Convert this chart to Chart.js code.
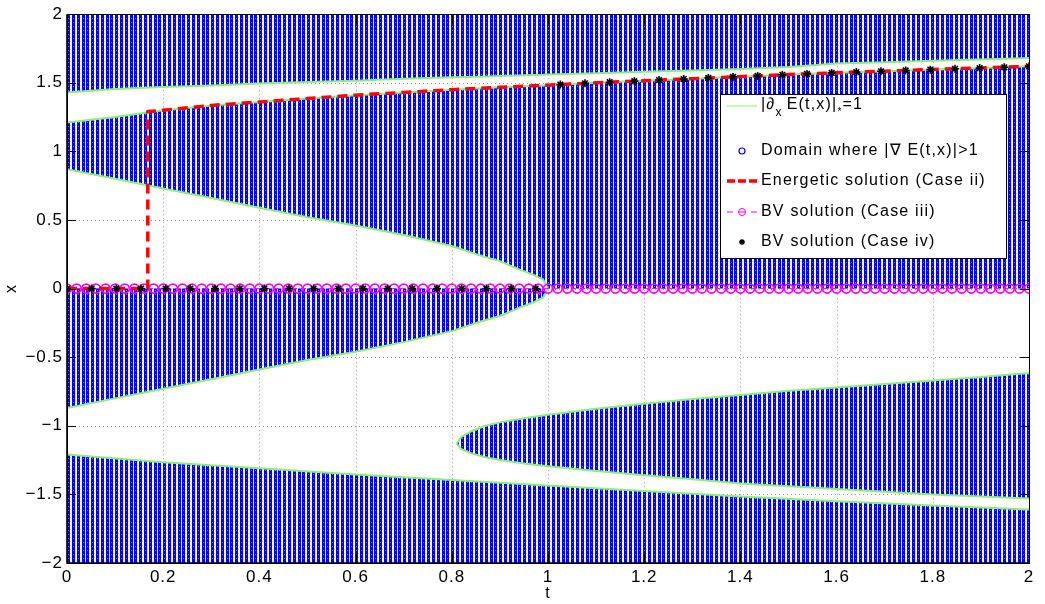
<!DOCTYPE html>
<html><head><meta charset="utf-8">
<script src="https://cdn.jsdelivr.net/npm/chart.js@4.4.0/dist/chart.umd.min.js"></script>
<style>html,body{margin:0;padding:0;background:#fff;}canvas{display:block;}</style>
</head><body>
<canvas id="c" width="1045" height="604"></canvas>
<script>
// ---------------- data ----------------
const xTicks = [0,0.2,0.4,0.6,0.8,1,1.2,1.4,1.6,1.8,2];
const yTicks = [-2,-1.5,-1,-0.5,0,0.5,1,1.5,2];

// common t grid for the upper boundaries
const tGrid   = [0,0.1,0.2,0.3,0.4,0.5,0.6,0.7,0.8,0.86,0.9,0.94,0.97,0.99,1.0,1.1,1.2,1.3,1.4,1.5,1.6,1.7,1.8,1.9,2.0];
const upper1  = [1.43,1.455,1.47,1.48,1.495,1.505,1.515,1.53,1.54,1.545,1.55,1.553,1.556,1.558,1.56,1.57,1.58,1.59,1.60,1.615,1.64,1.65,1.66,1.67,1.68];
const upper2  = [1.21,1.25,1.30,1.335,1.36,1.385,1.41,1.43,1.45,1.46,1.467,1.473,1.478,1.481,1.483,1.50,1.515,1.53,1.545,1.56,1.573,1.585,1.597,1.608,1.62];
const wedgeUpExt = [0.87,0.80,0.73,0.66,0.59,0.52,0.46,0.39,0.31,0.24,0.20,0.14,0.10,0.065,0,0,0,0,0,0,0,0,0,0,0];

// wedge (t from 0 to the tip at t = 1)
const wedgeT   = [0,0.1,0.2,0.3,0.4,0.5,0.6,0.7,0.8,0.86,0.9,0.94,0.97,0.99,1.0];
const wedgeUp  = [0.87,0.80,0.73,0.66,0.59,0.52,0.46,0.39,0.31,0.24,0.20,0.14,0.10,0.065,0];
const wedgeLow = [-0.87,-0.80,-0.73,-0.66,-0.59,-0.52,-0.46,-0.39,-0.31,-0.24,-0.20,-0.14,-0.10,-0.065,0];

// lower blob (tip near t = 0.81)
const blobT     = [0.81,0.82,0.84,0.87,0.9,0.95,1.0,1.1,1.2,1.3,1.4,1.5,1.6,1.7,1.8,1.9,2.0];
const blobUpper = [-1.13,-1.08,-1.04,-1.0,-0.975,-0.945,-0.92,-0.875,-0.84,-0.805,-0.775,-0.745,-0.72,-0.695,-0.67,-0.645,-0.615];
const blobLower = [-1.13,-1.17,-1.20,-1.23,-1.25,-1.275,-1.295,-1.33,-1.36,-1.39,-1.42,-1.44,-1.46,-1.48,-1.50,-1.515,-1.53];

// bottom boundary
const bottomT = [0,0.2,0.4,0.6,0.8,1.0,1.2,1.4,1.6,1.8,2.0];
const bottomX = [-1.21,-1.265,-1.31,-1.355,-1.395,-1.435,-1.475,-1.515,-1.55,-1.58,-1.61];

// energetic solution (case ii)
const energT = [0,0.168,0.168,0.2,0.3,0.4,0.5,0.6,0.7,0.8,0.9,1.0,1.1,1.2,1.3,1.4,1.5,1.6,1.7,1.8,1.9,2.0];
const energX = [0,0,1.29,1.30,1.335,1.36,1.385,1.41,1.43,1.45,1.467,1.483,1.50,1.515,1.53,1.545,1.56,1.573,1.585,1.597,1.608,1.62];

// BV solution (case iii)
const bv3T = [0,0.02,0.04,0.06,0.08,0.1,0.12,0.14,0.16,0.18,0.2,0.22,0.24,0.26,0.28,0.3,0.32,0.34,0.36,0.38,0.4,0.42,0.44,0.46,0.48,0.5,0.52,0.54,0.56,0.58,0.6,0.62,0.64,0.66,0.68,0.7,0.72,0.74,0.76,0.78,0.8,0.82,0.84,0.86,0.88,0.9,0.92,0.94,0.96,0.98,1.0,1.02,1.04,1.06,1.08,1.1,1.12,1.14,1.16,1.18,1.2,1.22,1.24,1.26,1.28,1.3,1.32,1.34,1.36,1.38,1.4,1.42,1.44,1.46,1.48,1.5,1.52,1.54,1.56,1.58,1.6,1.62,1.64,1.66,1.68,1.7,1.72,1.74,1.76,1.78,1.8,1.82,1.84,1.86,1.88,1.9,1.92,1.94,1.96,1.98,2.0];
const bv3Level = 0;

// BV solution (case iv)
const bv4T = [0,0.0513,0.1026,0.1538,0.2051,0.2564,0.3077,0.359,0.4103,0.4615,0.5128,0.5641,0.6154,0.6667,0.7179,0.7692,0.8205,0.8718,0.9231,0.9744,
              1.0256,1.0769,1.1282,1.1795,1.2308,1.2821,1.3333,1.3846,1.4359,1.4872,1.5385,1.5897,1.641,1.6923,1.7436,1.7949,1.8462,1.8974,1.9487,2.0];
const bv4X = [0,0,0,0,0,0,0,0,0,0,0,0,0,0,0,0,0,0,0,0,
              1.487,1.496,1.504,1.512,1.52,1.527,1.535,1.543,1.55,1.558,1.565,1.572,1.578,1.584,1.59,1.596,1.602,1.607,1.613,1.62];

// ---------------- chart ----------------
const pts = (ts, xs) => ts.map((t, i) => ({x: t, y: xs[i]}));
const canvas = document.getElementById('c');
const ctx = canvas.getContext('2d');

function makePattern() {
  const c = document.createElement('canvas');
  c.width = 24; c.height = 4;
  const g = c.getContext('2d');
  g.fillStyle = '#ffffff'; g.fillRect(0, 0, 24, 4);
  [0, 5, 10, 14, 19].forEach(x0 => {
    g.fillStyle = '#0000ff'; g.fillRect(x0, 0, 3, 4);
    g.fillStyle = '#6a6aff'; g.fillRect(x0 + 1, 2, 1, 1);
    g.fillStyle = '#c8c8ff'; g.fillRect(x0 + 3, 1, 1, 1);
  });
  return ctx.createPattern(c, 'repeat');
}
const blue = makePattern();
const GREEN = '#90ee70';
const FONT = '"Liberation Sans", Arial, Helvetica, sans-serif';

const lineBase = {pointRadius: 0, tension: 0, borderColor: GREEN, borderWidth: 2, fill: false};

const datasets = [
  Object.assign({}, lineBase, {data: pts(tGrid, upper1), fill: 'end', backgroundColor: blue, order: 20}),   //0
  Object.assign({}, lineBase, {data: pts(tGrid, upper2), fill: 2, backgroundColor: blue, order: 19}),       //1
  Object.assign({}, lineBase, {data: pts(tGrid, wedgeUpExt), borderWidth: 0, order: 18}),                   //2
  Object.assign({}, lineBase, {data: pts(wedgeT, wedgeLow), fill: {value: 0}, backgroundColor: blue, order: 17}), //3
  Object.assign({}, lineBase, {data: pts(wedgeT, wedgeUp), order: 16}),                                      //4
  Object.assign({}, lineBase, {data: pts(blobT, blobUpper), fill: 6, backgroundColor: blue, order: 15}),    //5
  Object.assign({}, lineBase, {data: pts(blobT, blobLower), order: 14}),                                     //6
  Object.assign({}, lineBase, {data: pts(bottomT, bottomX), fill: 'start', backgroundColor: blue, order: 13}), //7
  { // BV case iii
    data: bv3T.map(t => ({x: t, y: bv3Level})), order: 3, fill: false,
    borderColor: '#ff00ff', borderWidth: 1, borderDash: [5, 4],
    pointStyle: 'circle', pointRadius: 4.5, pointBorderColor: '#ff00ff', pointBackgroundColor: 'rgba(0,0,0,0)', pointBorderWidth: 1.6
  },
  { // energetic case ii
    data: pts(energT, energX), order: 2, fill: false, pointRadius: 0, tension: 0,
    borderColor: '#ff0000', borderWidth: 3.5, borderDash: [10, 6]
  },
  { // BV case iv
    data: pts(bv4T, bv4X), order: 1, showLine: false,
    pointStyle: 'star', pointRadius: 4, pointBorderColor: '#000', pointBackgroundColor: '#000', pointBorderWidth: 1.6
  }
];

const fmt = v => {
  const r = Math.round(v * 10) / 10;
  return String(r).replace('-', '\u2212');
};

const decor = {
  id: 'decor',
  beforeDraw(chart) {
    const c = chart.ctx;
    c.save(); c.fillStyle = '#fff'; c.fillRect(0, 0, chart.width, chart.height); c.restore();
    c.letterSpacing = '1px';
  },
  beforeDatasetsDraw(chart) {
    const {ctx: c, chartArea: a, scales: {x, y}} = chart;
    c.save();
    c.strokeStyle = '#9a9a9a'; c.lineWidth = 1; c.setLineDash([1, 3]);
    xTicks.forEach(v => {
      if (v === 0 || v === 2) return;
      const px = Math.round(x.getPixelForValue(v)) + 0.5;
      c.beginPath(); c.moveTo(px, a.top); c.lineTo(px, a.bottom); c.stroke();
    });
    yTicks.forEach(v => {
      if (v === -2 || v === 2) return;
      const py = Math.round(y.getPixelForValue(v)) + 0.5;
      c.beginPath(); c.moveTo(a.left, py); c.lineTo(a.right, py); c.stroke();
    });
    c.restore();
  },
  afterDatasetsDraw(chart) {
    const {ctx: c, chartArea: a, scales: {x, y}} = chart;
    c.save();
    c.setLineDash([]);
    c.strokeStyle = '#000'; c.lineWidth = 1;
    c.strokeRect(Math.round(a.left) + 0.5, Math.round(a.top) + 0.5, Math.round(a.right - a.left), Math.round(a.bottom - a.top));
    c.lineWidth = 1.6;
    c.beginPath(); c.moveTo(a.left, a.top); c.lineTo(a.left, a.bottom); c.lineTo(a.right, a.bottom); c.stroke();
    c.lineWidth = 1;
    const L = 9;
    xTicks.forEach(v => {
      const px = Math.round(x.getPixelForValue(v)) + 0.5;
      c.beginPath(); c.moveTo(px, a.bottom); c.lineTo(px, a.bottom - L);
      c.moveTo(px, a.top); c.lineTo(px, a.top + L); c.stroke();
    });
    yTicks.forEach(v => {
      const py = Math.round(y.getPixelForValue(v)) + 0.5;
      c.beginPath(); c.moveTo(a.left, py); c.lineTo(a.left + L, py);
      c.moveTo(a.right, py); c.lineTo(a.right - L, py); c.stroke();
    });
    c.restore();
  },
  afterDraw(chart) {
    const c = chart.ctx;
    c.save();
    c.letterSpacing = '1.2px';
    // legend box
    const bx = 720.5, by = 94.5, bw = 286, bh = 164;
    c.fillStyle = '#fff'; c.fillRect(bx, by, bw, bh);
    c.strokeStyle = '#000'; c.lineWidth = 1; c.setLineDash([]); c.strokeRect(bx, by, bw, bh);
    const sx0 = 727, sx1 = 757, sxm = 742, tx = 761;
    const rows = [108, 151, 181, 212, 242];
    c.textBaseline = 'middle'; c.textAlign = 'left'; c.fillStyle = '#000';
    // 1: green line
    c.strokeStyle = GREEN; c.lineWidth = 1;
    c.beginPath(); c.moveTo(sx0, rows[0] - 2); c.lineTo(sx1, rows[0] - 2); c.stroke();
    const big = '16px ' + FONT, sub = '12px ' + FONT, tiny = '10px ' + FONT;
    let cx = tx; const y0 = rows[0] - 3;
    c.font = big; c.fillText('|\u2202', cx, y0); cx += c.measureText('|\u2202').width;
    c.font = sub; c.fillText('x', cx, y0 + 8); cx += c.measureText('x').width + 4;
    c.font = big; c.fillText('E(t,x)|', cx, y0); cx += c.measureText('E(t,x)|').width;
    c.font = tiny; c.fillText('*', cx, y0 + 7); cx += c.measureText('*').width;
    c.font = big; c.fillText('=1', cx, y0);
    // 2: blue circle
    c.strokeStyle = '#0000ff'; c.lineWidth = 1.2;
    c.beginPath(); c.arc(sxm, rows[1], 3, 0, Math.PI * 2); c.stroke();
    c.fillText('Domain where |\u2207 E(t,x)|>1', tx, rows[1]);
    // 3: red dashed
    c.strokeStyle = '#ff0000'; c.lineWidth = 3.5; c.setLineDash([8, 3]);
    c.beginPath(); c.moveTo(sx0, rows[2]); c.lineTo(sx1, rows[2]); c.stroke();
    c.setLineDash([]);
    c.fillText('Energetic solution (Case ii)', tx, rows[2]);
    // 4: magenta
    c.strokeStyle = '#ff00ff'; c.lineWidth = 1;
    c.beginPath(); c.moveTo(sx0, rows[3]); c.lineTo(sx0 + 6, rows[3]); c.moveTo(sx1 - 6, rows[3]); c.lineTo(sx1, rows[3]);
    c.moveTo(sxm - 3.5, rows[3]); c.lineTo(sxm + 3.5, rows[3]); c.stroke();
    c.beginPath(); c.arc(sxm, rows[3], 3.5, 0, Math.PI * 2); c.stroke();
    c.fillText('BV solution (Case iii)', tx, rows[3]);
    // 5: asterisk
    c.strokeStyle = '#000'; c.lineWidth = 1.3;
    c.beginPath();
    for (let k = 0; k < 4; k++) {
      const ang = k * Math.PI / 4, r = 3;
      c.moveTo(sxm - r * Math.cos(ang), rows[4] - r * Math.sin(ang));
      c.lineTo(sxm + r * Math.cos(ang), rows[4] + r * Math.sin(ang));
    }
    c.stroke();
    c.fillText('BV solution (Case iv)', tx, rows[4]);
    c.restore();
  }
};

new Chart(ctx, {
  type: 'line',
  data: {datasets},
  options: {
    responsive: false, animation: false, devicePixelRatio: 1,
    layout: {padding: {left: 0, right: 16, top: 7, bottom: 0}},
    plugins: {legend: {display: false}, tooltip: {enabled: false}},
    elements: {line: {borderJoinStyle: 'round'}},
    scales: {
      x: {
        type: 'linear', min: 0, max: 2,
        afterBuildTicks: s => { s.ticks = xTicks.map(v => ({value: v})); },
        ticks: {callback: fmt, color: '#000', font: {family: FONT, size: 17}, padding: 4, maxRotation: 0, autoSkip: false},
        grid: {display: false, drawTicks: false}, border: {display: false},
        title: {display: true, text: 't', color: '#000', font: {family: FONT, size: 16}, padding: {top: 0, bottom: 1}},
        afterFit: s => { s.height = 41; }
      },
      y: {
        type: 'linear', min: -2, max: 2,
        afterBuildTicks: s => { s.ticks = yTicks.map(v => ({value: v})); },
        ticks: {callback: fmt, color: '#000', font: {family: FONT, size: 17}, padding: 4, autoSkip: false},
        grid: {display: false, drawTicks: false}, border: {display: false},
        title: {display: true, text: 'x', color: '#000', font: {family: FONT, size: 16}, padding: {top: 2, bottom: 0}},
        afterFit: s => { s.width = 67; }
      }
    }
  },
  plugins: [decor]
});
</script>
</body></html>
